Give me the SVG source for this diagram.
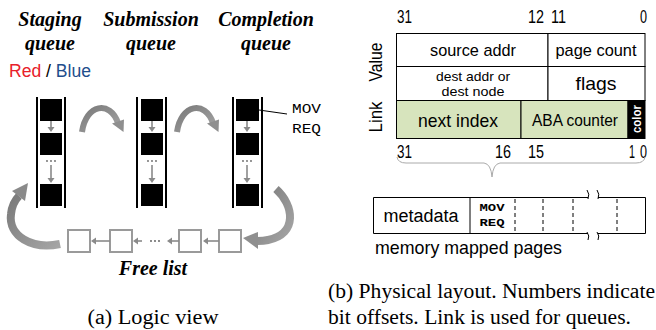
<svg xmlns="http://www.w3.org/2000/svg" width="656" height="330" viewBox="0 0 656 330">
<style>
.ttl{font-family:"Liberation Serif",serif;font-weight:bold;font-style:italic;font-size:20px;text-anchor:middle}
.cap{font-family:"Liberation Serif",serif;font-size:20px}
.sans{font-family:"Liberation Sans",Arial,sans-serif}
.mono{font-family:"Liberation Mono","Courier New",monospace}
.ql{stroke:#000;stroke-width:2}
.blk{fill:#000}
.ga{stroke:#8a8a8a;stroke-width:1.6;fill:none}
.gah{fill:#8a8a8a}
.fb{fill:#fff;stroke:#9a9a9a;stroke-width:2}
.cell{fill:#fff;stroke:#000;stroke-width:1}
.green{fill:#d7e4bd;stroke:#000;stroke-width:1}
.big{fill:none;stroke:url(#gg);stroke-linecap:butt}
</style>
<defs>
<linearGradient id="gg" x1="0" y1="0" x2="1" y2="1">
<stop offset="0" stop-color="#7a7a7a"/>
<stop offset="1" stop-color="#a5a5a5"/>
</linearGradient>
</defs>

<g id="titles">
<text class="ttl" x="50" y="26">Staging</text>
<text class="ttl" x="50" y="50">queue</text>
<text class="ttl" x="151" y="26">Submission</text>
<text class="ttl" x="151" y="50">queue</text>
<text class="ttl" x="266" y="26">Completion</text>
<text class="ttl" x="266" y="50">queue</text>
<text class="sans" x="9" y="77" font-size="18" textLength="82" lengthAdjust="spacingAndGlyphs"><tspan fill="#e8202a">Red</tspan><tspan fill="#000"> / </tspan><tspan fill="#1f4e8c">Blue</tspan></text>
</g>

<g id="staging-queue">
<line class="ql" x1="37" y1="97" x2="37" y2="208"/>
<line class="ql" x1="65" y1="97" x2="65" y2="208"/>
<rect class="blk" x="40" y="99" width="22" height="22"/>
<rect class="blk" x="40" y="133" width="22" height="22"/>
<rect class="blk" x="40" y="184" width="22" height="22"/>
<g fill="#666"><circle cx="47" cy="161" r="0.9"/><circle cx="51" cy="161" r="0.9"/><circle cx="55" cy="161" r="0.9"/></g>
</g>

<g id="submission-queue">
<line class="ql" x1="137" y1="97" x2="137" y2="208"/>
<line class="ql" x1="166" y1="97" x2="166" y2="208"/>
<rect class="blk" x="141" y="99" width="22" height="22"/>
<rect class="blk" x="141" y="133" width="22" height="22"/>
<rect class="blk" x="141" y="184" width="22" height="22"/>
<g fill="#666"><circle cx="148" cy="161" r="0.9"/><circle cx="152" cy="161" r="0.9"/><circle cx="156" cy="161" r="0.9"/></g>
</g>

<g id="completion-queue">
<line class="ql" x1="233" y1="97" x2="233" y2="208"/>
<line class="ql" x1="262" y1="97" x2="262" y2="208"/>
<rect class="blk" x="236" y="99" width="23" height="22"/>
<rect class="blk" x="236" y="133" width="23" height="22"/>
<rect class="blk" x="236" y="184" width="23" height="22"/>
<g fill="#666"><circle cx="243" cy="161" r="0.9"/><circle cx="247" cy="161" r="0.9"/><circle cx="251" cy="161" r="0.9"/></g>
<line x1="259" y1="110" x2="287" y2="114" stroke="#000" stroke-width="1"/>
<text class="mono" x="292" y="113" font-size="13" textLength="29" lengthAdjust="spacingAndGlyphs">MOV</text>
<text class="mono" x="292" y="133" font-size="13" textLength="29" lengthAdjust="spacingAndGlyphs">REQ</text>
</g>

<g id="free-list">
<rect class="fb" x="68" y="230" width="22" height="22"/>
<rect class="fb" x="110" y="230" width="22" height="22"/>
<rect class="fb" x="179" y="230" width="22" height="22"/>
<rect class="fb" x="219" y="230" width="22" height="22"/>
<g fill="#555"><circle cx="151" cy="241" r="0.9"/><circle cx="155" cy="241" r="0.9"/><circle cx="159" cy="241" r="0.9"/></g>
<text class="ttl" x="153" y="275">Free list</text>
</g>

<g id="connectors">
<line class="ga" x1="51" y1="121" x2="51" y2="128"/><polygon class="gah" points="47.5,127 54.5,127 51,132"/>
<line class="ga" x1="51" y1="165" x2="51" y2="179"/><polygon class="gah" points="47.5,178 54.5,178 51,183"/>
<line class="ga" x1="152" y1="121" x2="152" y2="128"/><polygon class="gah" points="148.5,127 155.5,127 152,132"/>
<line class="ga" x1="152" y1="165" x2="152" y2="179"/><polygon class="gah" points="148.5,178 155.5,178 152,183"/>
<line class="ga" x1="247" y1="121" x2="247" y2="128"/><polygon class="gah" points="243.5,127 250.5,127 247,132"/>
<line class="ga" x1="247" y1="165" x2="247" y2="179"/><polygon class="gah" points="243.5,178 250.5,178 247,183"/>
<line class="ga" x1="110" y1="241" x2="95" y2="241"/><polygon class="gah" points="96,237.5 96,244.5 91,241"/>
<line class="ga" x1="142" y1="241" x2="137" y2="241"/><polygon class="gah" points="138,237.5 138,244.5 133,241"/>
<line class="ga" x1="179" y1="241" x2="171" y2="241"/><polygon class="gah" points="172,237.5 172,244.5 167,241"/>
<line class="ga" x1="219" y1="241" x2="207" y2="241"/><polygon class="gah" points="208,237.5 208,244.5 203,241"/>
<path class="big" stroke-width="6" d="M 82 132 C 86 104, 110 100, 118 123"/>
<polygon fill="#8f8f8f" points="112,123.5 124,119.5 123.5,132"/>
<path class="big" stroke-width="6" d="M 177 132 C 181 104, 205 100, 213 123"/>
<polygon fill="#8f8f8f" points="207,123.5 219,119.5 218.5,132"/>
<path class="big" stroke-width="8" d="M 60 244 C 32 250, 8 236, 11 214 C 12 205, 15 200, 19 196"/>
<polygon fill="#8a8a8a" points="12,191 28,183 25,201"/>
<path class="big" stroke-width="8" d="M 276 189 C 294 205, 298 234, 268 240 C 264 241, 261 241, 257 241"/>
<polygon fill="#8f8f8f" points="258,232 243,238 258,249"/>
</g>

<text class="cap" x="153" y="324" text-anchor="middle" textLength="131" lengthAdjust="spacingAndGlyphs">(a)  Logic view</text>

<g id="bit-labels-top" class="sans" font-size="18">
<text x="397" y="23" textLength="15" lengthAdjust="spacingAndGlyphs">31</text>
<text x="528" y="23" textLength="16" lengthAdjust="spacingAndGlyphs">12</text>
<text x="551" y="23" textLength="15" lengthAdjust="spacingAndGlyphs">11</text>
<text x="640" y="23" textLength="7" lengthAdjust="spacingAndGlyphs">0</text>
</g>
<g id="side-labels" class="sans" font-size="18">
<text transform="translate(382,62) rotate(-90)" text-anchor="middle" textLength="39" lengthAdjust="spacingAndGlyphs">Value</text>
<text transform="translate(382,117) rotate(-90)" text-anchor="middle" textLength="31" lengthAdjust="spacingAndGlyphs">Link</text>
</g>
<g id="value-row1">
<rect class="cell" x="396.5" y="33.5" width="151.5" height="33"/>
<rect class="cell" x="548" y="33.5" width="97" height="33"/>
<text class="sans" x="473" y="56" font-size="17" text-anchor="middle" textLength="86" lengthAdjust="spacingAndGlyphs">source addr</text>
<text class="sans" x="596" y="56" font-size="17" text-anchor="middle" textLength="81" lengthAdjust="spacingAndGlyphs">page count</text>
</g>
<g id="value-row2">
<rect class="cell" x="396.5" y="66.5" width="151.5" height="34"/>
<rect class="cell" x="548" y="66.5" width="97" height="34"/>
<text class="sans" x="473" y="81" font-size="13.5" text-anchor="middle" textLength="74" lengthAdjust="spacingAndGlyphs">dest addr or</text>
<text class="sans" x="473" y="96" font-size="13.5" text-anchor="middle" textLength="63" lengthAdjust="spacingAndGlyphs">dest node</text>
<text class="sans" x="596" y="90" font-size="19" text-anchor="middle" textLength="41" lengthAdjust="spacingAndGlyphs">flags</text>
</g>
<g id="link-row">
<rect class="green" x="396.5" y="100.5" width="124.5" height="38"/>
<rect class="green" x="521" y="100.5" width="107" height="38"/>
<rect x="628" y="100.5" width="17" height="38" fill="#000" stroke="#000"/>
<text class="sans" x="458" y="127" font-size="19" text-anchor="middle" textLength="80" lengthAdjust="spacingAndGlyphs">next index</text>
<text class="sans" x="575" y="126" font-size="17" text-anchor="middle" textLength="86" lengthAdjust="spacingAndGlyphs">ABA counter</text>
<text class="sans" transform="translate(641,119) rotate(-90)" font-size="12" font-weight="bold" fill="#fff" text-anchor="middle" textLength="28" lengthAdjust="spacingAndGlyphs">color</text>
</g>
<g id="bit-labels-bottom" class="sans" font-size="18">
<text x="397" y="158" textLength="15" lengthAdjust="spacingAndGlyphs">31</text>
<text x="495" y="158" textLength="16" lengthAdjust="spacingAndGlyphs">16</text>
<text x="528" y="158" textLength="16" lengthAdjust="spacingAndGlyphs">15</text>
<text x="629" y="158" textLength="6" lengthAdjust="spacingAndGlyphs">1</text>
<text x="640" y="158" textLength="7" lengthAdjust="spacingAndGlyphs">0</text>
</g>
<path id="brace" d="M 397 157 Q 398 163 406 163 L 484 163 Q 491 164 492 177 Q 493 164 500 163 L 636 163 Q 644 163 645 157" fill="none" stroke="#aaa" stroke-width="1"/>

<g id="memory-pages">
<path d="M 588 197.5 L 373.5 197.5 L 373.5 233.5 L 588 233.5 M 598 197.5 L 645.5 197.5 L 645.5 233.5 L 598 233.5" fill="none" stroke="#000" stroke-width="1"/>
<line x1="470" y1="197.5" x2="470" y2="233.5" stroke="#000"/>
<g stroke="#000" stroke-dasharray="4,3">
<line x1="515" y1="199" x2="515" y2="233"/>
<line x1="543" y1="199" x2="543" y2="233"/>
<line x1="573" y1="199" x2="573" y2="233"/>
<line x1="617" y1="199" x2="617" y2="233"/>
</g>
<path d="M 587 190 Q 590 194 588 199 M 597 190 Q 600 194 598 199 M 587 232 Q 590 236 588 240 M 597 232 Q 600 236 598 240" fill="none" stroke="#000"/>
<text class="sans" x="421" y="222" font-size="18" text-anchor="middle" textLength="75" lengthAdjust="spacingAndGlyphs">metadata</text>
<text class="mono" x="492" y="211" font-size="10.5" font-weight="bold" text-anchor="middle" textLength="25" lengthAdjust="spacingAndGlyphs">MOV</text>
<text class="mono" x="492" y="226" font-size="10.5" font-weight="bold" text-anchor="middle" textLength="25" lengthAdjust="spacingAndGlyphs">REQ</text>
<text class="sans" x="375" y="254" font-size="19" textLength="187" lengthAdjust="spacingAndGlyphs">memory mapped pages</text>
</g>

<text class="cap" x="328" y="298" textLength="327" lengthAdjust="spacingAndGlyphs">(b) Physical layout. Numbers indicate</text>
<text class="cap" x="328" y="324" textLength="303" lengthAdjust="spacingAndGlyphs">bit offsets. Link is used for queues.</text>
</svg>
